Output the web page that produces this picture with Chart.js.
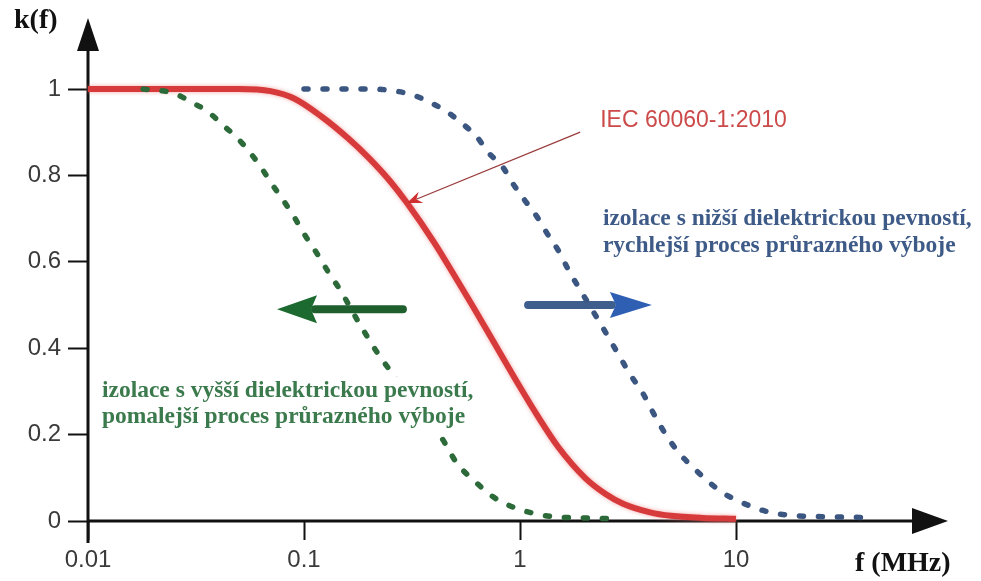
<!DOCTYPE html>
<html>
<head>
<meta charset="utf-8">
<title>k(f)</title>
<script src="https://cdn.jsdelivr.net/npm/chart.js@4.4.1/dist/chart.umd.min.js"></script>
<style>
  html, body { margin: 0; padding: 0; background: #ffffff; }
  #wrap { width: 981px; height: 581px; position: relative; }
  canvas { display: block; }
</style>
</head>
<body>
<div id="wrap"><canvas id="c" width="981" height="581"></canvas></div>
<script>
// Frequency axis (MHz, logarithmic) and k(f) axis ticks
const xTicks = [0.01, 0.1, 1, 10];
const xTickLabels = ['0.01', '0.1', '1', '10'];
const yTicks = [0, 0.2, 0.4, 0.6, 0.8, 1];
const yTickLabels = ['0', '0.2', '0.4', '0.6', '0.8', '1'];

// IEC 60060-1:2010 reference curve
const freqIec = [0.01, 0.05, 0.07, 0.09, 0.12, 0.16, 0.2, 0.25, 0.3, 0.4, 0.5, 0.6, 0.8, 1, 1.2, 1.5, 2, 2.5, 3, 4, 5, 7, 10];
const kIec = [1, 1, 0.995, 0.978, 0.937, 0.886, 0.84, 0.787, 0.736, 0.645, 0.566, 0.5, 0.393, 0.31, 0.245, 0.172, 0.1, 0.062, 0.04, 0.02, 0.012, 0.007, 0.005];

// Insulation with higher dielectric strength (slower breakdown)
const freqHigh = [0.018, 0.025, 0.03, 0.036, 0.042, 0.049, 0.056, 0.063, 0.071, 0.08, 0.09, 0.1, 0.118, 0.13, 0.147, 0.18, 0.225, 0.255, 0.3, 0.35, 0.43, 0.51, 0.63, 0.75, 0.93, 1.15, 1.42, 2, 2.8];
const kHigh = [1, 0.99, 0.97, 0.947, 0.917, 0.887, 0.854, 0.82, 0.78, 0.743, 0.704, 0.665, 0.61, 0.575, 0.535, 0.458, 0.38, 0.343, 0.29, 0.245, 0.195, 0.134, 0.088, 0.056, 0.032, 0.018, 0.01, 0.007, 0.005];

// Insulation with lower dielectric strength (faster breakdown)
const freqLow = [0.1, 0.15, 0.2, 0.25, 0.32, 0.38, 0.46, 0.54, 0.63, 0.71, 0.83, 0.93, 1.05, 1.2, 1.33, 1.53, 1.68, 1.9, 2.35, 2.9, 3.2, 3.7, 4.3, 4.8, 5.5, 6.3, 7.3, 8.7, 10, 12, 14.4, 18, 25, 42];
const kLow = [1, 1, 1, 0.997, 0.986, 0.97, 0.947, 0.92, 0.89, 0.854, 0.82, 0.78, 0.743, 0.704, 0.667, 0.62, 0.58, 0.535, 0.458, 0.38, 0.343, 0.296, 0.235, 0.195, 0.155, 0.125, 0.095, 0.065, 0.049, 0.032, 0.02, 0.013, 0.01, 0.008];

const toPoints = (xs, ys) => xs.map((x, i) => ({ x: x, y: ys[i] }));

const INK = '#111111';
const SERIF = '"Liberation Serif", "DejaVu Serif", serif';
const SANS = '"Liberation Sans", Arial, sans-serif';

function filledArrow(ctx, x0, x1, y, shaft, headLen, headHalf, shaftColor, headColor) {
  const dir = Math.sign(x1 - x0);
  const base = x1 - dir * headLen;
  ctx.save();
  ctx.strokeStyle = shaftColor;
  ctx.lineWidth = shaft;
  ctx.lineCap = 'round';
  ctx.beginPath();
  ctx.moveTo(x0, y);
  ctx.lineTo(base + dir * 2, y);
  ctx.stroke();
  ctx.fillStyle = headColor;
  ctx.beginPath();
  ctx.moveTo(x1, y);
  ctx.lineTo(base, y - headHalf);
  ctx.lineTo(base + dir * 6, y);
  ctx.lineTo(base, y + headHalf);
  ctx.closePath();
  ctx.fill();
  ctx.restore();
}

// Axes with arrowheads, drawn under the curves
const axesPlugin = {
  id: 'axesWithArrows',
  beforeDatasetsDraw(chart) {
    const { ctx, chartArea: a } = chart;
    ctx.save();
    ctx.strokeStyle = INK;
    ctx.fillStyle = INK;
    ctx.lineWidth = 3;
    ctx.lineCap = 'butt';
    // vertical axis
    ctx.beginPath();
    ctx.moveTo(a.left, a.bottom + 22);
    ctx.lineTo(a.left, a.top - 38);
    ctx.stroke();
    ctx.beginPath();
    ctx.moveTo(a.left, a.top - 71);
    ctx.lineTo(a.left - 11, a.top - 38);
    ctx.lineTo(a.left + 11, a.top - 38);
    ctx.closePath();
    ctx.fill();
    // horizontal axis
    ctx.beginPath();
    ctx.moveTo(a.left, a.bottom);
    ctx.lineTo(a.right - 38, a.bottom);
    ctx.stroke();
    ctx.beginPath();
    ctx.moveTo(a.right - 4, a.bottom);
    ctx.lineTo(a.right - 40, a.bottom - 13);
    ctx.lineTo(a.right - 40, a.bottom + 13);
    ctx.closePath();
    ctx.fill();
    ctx.restore();

    // direction arrows between the curves
    const x = chart.scales.x, y = chart.scales.y;
    filledArrow(ctx, x.getPixelForValue(0.287), x.getPixelForValue(0.075), y.getPixelForValue(0.49),
      8, 40, 14, '#1f5f2e', '#1c6a30');
    filledArrow(ctx, x.getPixelForValue(1.09), x.getPixelForValue(4.08), y.getPixelForValue(0.5),
      8, 42, 13, '#3e5f8e', '#2f5fb3');
  },
  beforeDatasetDraw(chart, args) {
    if (args.meta.dataset && chart.data.datasets[args.index].glow) {
      chart.ctx.save();
      chart.ctx.shadowColor = 'rgba(240, 130, 130, 0.7)';
      chart.ctx.shadowBlur = 4;
    }
  },
  afterDatasetDraw(chart, args) {
    if (args.meta.dataset && chart.data.datasets[args.index].glow) {
      chart.ctx.restore();
    }
  }
};

// Axis titles and annotations
const labelPlugin = {
  id: 'labels',
  afterDraw(chart) {
    const { ctx, chartArea: a } = chart;
    const x = chart.scales.x, y = chart.scales.y;
    ctx.save();

    ctx.fillStyle = INK;
    ctx.font = 'bold 28px ' + SERIF;
    ctx.textAlign = 'left';
    ctx.textBaseline = 'middle';
    ctx.fillText('k(f)', a.left - 74, a.top - 68);
    ctx.fillText('f (MHz)', a.left + 767, a.bottom + 43);

    // IEC label with leader arrow to the reference curve
    const iecIdx = freqIec.indexOf(0.3);
    const tipX = x.getPixelForValue(freqIec[iecIdx]);
    const tipY = y.getPixelForValue(kIec[iecIdx]);
    const startX = x.getPixelForValue(1.9);
    const startY = y.getPixelForValue(0.9);
    const ang = Math.atan2(tipY - startY, tipX - startX);
    ctx.strokeStyle = '#9a3c3c';
    ctx.lineWidth = 1.3;
    ctx.beginPath();
    ctx.moveTo(startX, startY);
    ctx.lineTo(tipX - 10 * Math.cos(ang), tipY - 10 * Math.sin(ang));
    ctx.stroke();
    ctx.fillStyle = '#d02f2f';
    ctx.beginPath();
    ctx.moveTo(tipX, tipY);
    ctx.lineTo(tipX - 15 * Math.cos(ang) + 6 * Math.sin(ang), tipY - 15 * Math.sin(ang) - 6 * Math.cos(ang));
    ctx.lineTo(tipX - 10 * Math.cos(ang), tipY - 10 * Math.sin(ang));
    ctx.lineTo(tipX - 15 * Math.cos(ang) - 6 * Math.sin(ang), tipY - 15 * Math.sin(ang) + 6 * Math.cos(ang));
    ctx.closePath();
    ctx.fill();

    ctx.fillStyle = '#cc4a4a';
    ctx.font = '23px ' + SANS;
    ctx.textBaseline = 'middle';
    ctx.fillText('IEC 60060-1:2010', x.getPixelForValue(2.35), y.getPixelForValue(0.926));

    // explanatory notes
    ctx.font = 'bold 23.5px ' + SERIF;
    ctx.textBaseline = 'alphabetic';
    const gx = x.getPixelForValue(0.0116);
    const g1 = y.getPixelForValue(0.287), g2 = y.getPixelForValue(0.227);
    const gw = Math.max(ctx.measureText('izolace s vyšší dielektrickou pevností,').width,
                        ctx.measureText('pomalejší proces průrazného výboje').width);
    ctx.fillStyle = '#ffffff';
    ctx.fillRect(gx - 3, g1 - 20, gw + 8, (g2 - g1) + 29);
    ctx.fillStyle = '#3b7a4c';
    ctx.fillText('izolace s vyšší dielektrickou pevností,', gx, g1);
    ctx.fillText('pomalejší proces průrazného výboje', gx, g2);

    const bx = x.getPixelForValue(2.42);
    ctx.fillStyle = '#3e5b88';
    ctx.fillText('izolace s nižší dielektrickou pevností,', bx, y.getPixelForValue(0.685));
    ctx.fillText('rychlejší proces průrazného výboje', bx, y.getPixelForValue(0.623));

    ctx.restore();
  }
};

const dotted = { borderWidth: 5.5, borderDash: [4, 15], borderCapStyle: 'round' };

new Chart(document.getElementById('c').getContext('2d'), {
  type: 'line',
  data: {
    datasets: [
      Object.assign({
        label: 'izolace s vyšší dielektrickou pevností',
        data: toPoints(freqHigh, kHigh),
        borderColor: '#2d6a3a',
        order: 0
      }, dotted),
      Object.assign({
        label: 'izolace s nižší dielektrickou pevností',
        data: toPoints(freqLow, kLow),
        borderColor: '#3b5680',
        order: 1
      }, dotted),
      {
        label: 'IEC 60060-1:2010',
        data: toPoints(freqIec, kIec),
        borderColor: '#d63a3a',
        borderWidth: 6,
        borderCapStyle: 'butt',
        glow: true,
        order: 2
      }
    ]
  },
  options: {
    responsive: false,
    animation: false,
    clip: false,
    elements: {
      point: { radius: 0, hoverRadius: 0 },
      line: { cubicInterpolationMode: 'monotone', fill: false }
    },
    layout: { padding: { left: 0, right: 29, top: 89, bottom: 0 } },
    plugins: { legend: { display: false }, tooltip: { enabled: false } },
    events: [],
    scales: {
      x: {
        type: 'logarithmic',
        min: 0.01,
        max: 100,
        afterFit(s) { s.height = 60; },
        afterBuildTicks(s) { s.ticks = xTicks.map(v => ({ value: v, major: false })); },
        border: { display: false },
        grid: { drawOnChartArea: false, drawTicks: true, tickLength: 19, tickWidth: 2, tickColor: INK },
        ticks: {
          autoSkip: false, maxRotation: 0, padding: 6, color: '#3a3a3a',
          font: { family: SANS, size: 24 },
          callback: (v, i) => xTickLabels[i]
        }
      },
      y: {
        type: 'linear',
        min: 0,
        max: 1,
        afterFit(s) { s.width = 88; },
        afterBuildTicks(s) { s.ticks = yTicks.map(v => ({ value: v })); },
        border: { display: false },
        grid: { drawOnChartArea: false, drawTicks: true, tickLength: 20, tickWidth: 2, tickColor: INK },
        ticks: {
          padding: 7, color: '#3a3a3a',
          font: { family: SANS, size: 24 },
          callback: (v, i) => yTickLabels[i]
        }
      }
    }
  },
  plugins: [axesPlugin, labelPlugin]
});
</script>
</body>
</html>
